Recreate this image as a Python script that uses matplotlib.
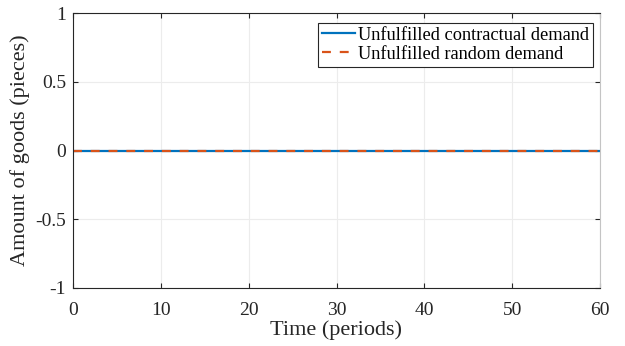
import numpy as np
import matplotlib
matplotlib.use('Agg')
import matplotlib.pyplot as plt

# Datos: ambas demandas insatisfechas son cero en todo el horizonte
periods = np.arange(0, 61)
contractual_unfulfilled = np.zeros(61)
random_unfulfilled = np.zeros(61)

x_ticks = [0, 10, 20, 30, 40, 50, 60]
y_ticks = [-1, -0.5, 0, 0.5, 1]
y_tick_labels = ['-1', '-0.5', '0', '0.5', '1']

plt.rcParams['font.family'] = ['Liberation Serif', 'DejaVu Serif']

fig = plt.figure(figsize=(6.25, 3.46), dpi=100)
ax = fig.add_axes([73 / 625, 1 - 288 / 346, 527 / 625, 275 / 346])

ax.plot(periods, contractual_unfulfilled, color='#0072BD', linewidth=1.6,
        label='Unfulfilled contractual demand')
ax.plot(periods, random_unfulfilled, color='#D95319', linewidth=1.6,
        linestyle=(0, (4, 4)), label='Unfulfilled random demand')

ax.set_xlim(0, 60)
ax.set_ylim(-1, 1)
ax.set_xticks(x_ticks)
ax.set_yticks(y_ticks)
ax.set_yticklabels(y_tick_labels)
ax.grid(True, color='#ececec', linewidth=0.8)
ax.set_axisbelow(True)

for s in ax.spines.values():
    s.set_color('#262626')
    s.set_linewidth(0.8)
ax.spines['right'].set_color('#c4c4c4')
ax.tick_params(direction='in', top=True, right=True, length=3.5, width=0.8,
               colors='#262626', labelsize=14, labelcolor='#262626')
ax.tick_params(axis='x', pad=10)
ax.tick_params(axis='y', pad=5)

ax.set_xlabel('Time (periods)', fontsize=16, color='#262626', labelpad=1)
ax.set_ylabel('Amount of goods (pieces)', fontsize=16, color='#262626', labelpad=4)

leg = ax.legend(loc='upper right', bbox_to_anchor=(0.9867, 0.9636),
                borderaxespad=0, fontsize=13.2, frameon=True, fancybox=False,
                edgecolor='#262626', framealpha=1, borderpad=0.2,
                handlelength=1.8, handletextpad=0.2, labelspacing=0.12)
leg.get_frame().set_linewidth(0.8)

fig.savefig('out.png', dpi=100)
